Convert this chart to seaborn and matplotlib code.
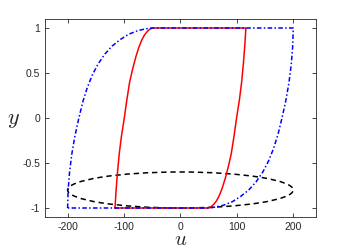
import numpy as np
import pandas as pd
import matplotlib
matplotlib.use("Agg")
import matplotlib.pyplot as plt
import seaborn as sns
from matplotlib.patches import Ellipse

# red loop, left branch up, top, right branch down, bottom
red_u = [-116, -114, -111.5, -108.5, -104.5, -99.5, -95, -90, -84.5, -79, -74, -69, -64, -59, -54.5, -50,
         116, 114, 111.5, 108.5, 104.5, 99.5, 95, 90, 84.5, 79, 74, 69, 64, 59, 54.5, 50, -116]
red_y = [-1.0, -0.8, -0.6, -0.4, -0.2, 0.0, 0.2, 0.4, 0.55, 0.68, 0.78, 0.86, 0.92, 0.96, 0.985, 1.0,
         1.0, 0.8, 0.6, 0.4, 0.2, 0.0, -0.2, -0.4, -0.55, -0.68, -0.78, -0.86, -0.92, -0.96, -0.985, -1.0, -1.0]

# blue loop
blue_u = [-200, -199, -196.5, -192.5, -187, -180, -173, -165, -156, -146, -134, -121, -107, -92, -76, -62, -50,
          200, 199, 196.5, 192.5, 187, 180, 173, 165, 156, 146, 134, 121, 107, 92, 76, 62, 50, -200]
blue_y = [-1.0, -0.8, -0.6, -0.4, -0.2, 0.0, 0.18, 0.34, 0.48, 0.60, 0.71, 0.80, 0.87, 0.93, 0.97, 0.99, 1.0,
          1.0, 0.8, 0.6, 0.4, 0.2, 0.0, -0.18, -0.34, -0.48, -0.60, -0.71, -0.80, -0.87, -0.93, -0.97, -0.99, -1.0, -1.0]

# dashed ellipse
ell_center = (0, -0.8)
ell_width = 400
ell_height = 0.4

xticks = [-200, -100, 0, 100, 200]
yticks = [-1, -0.5, 0, 0.5, 1]

sns.set_style("ticks")
plt.rcParams["font.family"] = ["Liberation Sans", "DejaVu Sans"]
plt.rcParams["mathtext.fontset"] = "cm"

fig = plt.figure(figsize=(3.49, 2.5), dpi=100)
ax = fig.add_axes([0.129, 0.132, 0.776, 0.792])

red = pd.DataFrame({"u": red_u, "y": red_y})
blue = pd.DataFrame({"u": blue_u, "y": blue_y})

sns.lineplot(data=red, x="u", y="y", sort=False, estimator=None, color="#ff0000", lw=1.1, ax=ax)
sns.lineplot(data=blue, x="u", y="y", sort=False, estimator=None, color="#0000ff", lw=1.1,
             linestyle=(0, (3, 1.5, 1, 1.5)), ax=ax)
ax.add_patch(Ellipse(ell_center, ell_width, ell_height, fill=False, edgecolor="black",
                     lw=1.1, linestyle=(0, (3.5, 2.5))))

ax.set_xlim(-240, 240)
ax.set_ylim(-1.1, 1.1)
ax.set_xticks(xticks)
ax.set_yticks(yticks)
ax.set_yticklabels(["-1", "-0.5", "0", "0.5", "1"])
ax.set_xticklabels(["-200", "-100", "0", "100", "200"])
ax.tick_params(direction="in", length=3, width=0.6, top=True, right=True,
               labelsize=7.5, colors="#262626", pad=3.5)
for s in ax.spines.values():
    s.set_visible(True)
    s.set_color("#262626")
    s.set_linewidth(0.6)

ax.set_xlabel("$u$", fontsize=15, labelpad=-1)
ax.set_ylabel("$y$", fontsize=16, rotation=0, va="center", ha="center")
ax.yaxis.set_label_coords(-0.115, 0.49)

fig.savefig("out.png", dpi=100)
